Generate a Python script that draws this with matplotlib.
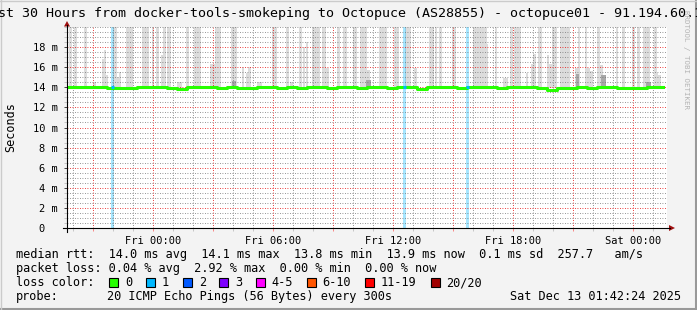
import matplotlib
matplotlib.use("Agg")
import matplotlib.pyplot as plt
from matplotlib.lines import Line2D
from matplotlib.patches import Rectangle, Polygon
from matplotlib.ticker import FixedLocator, FixedFormatter, MultipleLocator

W, H = 697, 310
MONO = "DejaVu Sans Mono"

# x axis = hours since Thu 19:42:24 (30 hours shown)
FRI0 = 4 + 17 / 60 + 36 / 3600
label_hours = [FRI0 + 6 * i for i in range(5)]
label_text = ["Fri 00:00", "Fri 06:00", "Fri 12:00", "Fri 18:00", "Sat 00:00"]

# median rtt (ms), one value every 30 minutes
median_ms = [14.0, 14.0, 14.0, 14.0, 13.9, 13.9, 13.9, 14.0, 14.0, 14.0,
             13.9, 13.85, 14.0, 14.0, 14.0, 13.9, 14.0, 13.9, 13.95, 14.0,
             14.0, 13.9, 14.0, 13.95, 14.0, 14.0, 13.95, 14.0, 14.0, 13.95,
             14.0, 14.0, 13.9, 14.0, 14.0, 13.85, 14.0, 14.0, 14.0, 13.9,
             14.0, 14.0, 14.0, 13.95, 14.0, 14.0, 14.0, 13.95, 13.75, 13.9,
             13.95, 14.0, 13.95, 14.0, 14.0, 13.9, 13.95, 13.95, 14.0, 14.0]

# samples with 1/20 lost
loss_hours = [2.25, 16.85, 20.0]

# smoke going off the top of the graph: (start h, end h)
smoke_full = [(0.12, 0.24), (0.37, 0.49), (0.85, 0.99), (2.29, 2.49), (2.95, 3.29),
              (3.74, 4.12), (4.24, 4.37), (4.45, 4.6), (4.82, 4.95), (5.0, 5.2),
              (5.95, 6.12), (6.37, 6.7), (7.4, 7.69), (8.19, 8.49), (10.24, 10.49),
              (10.95, 11.09), (11.62, 11.74), (12.24, 12.65), (12.74, 12.95),
              (13.49, 13.65), (13.82, 13.99), (14.32, 14.49), (14.65, 14.99),
              (15.62, 15.99), (16.37, 16.62), (16.9, 17.2), (18.12, 18.35),
              (18.4, 18.52), (18.62, 18.74), (19.24, 19.45), (20.32, 20.99),
              (21.4, 21.49), (22.15, 22.32), (22.37, 22.7), (23.57, 23.74),
              (24.24, 24.49), (24.65, 25.15), (25.54, 25.65), (25.9, 26.02),
              (26.52, 26.65), (27.45, 27.57), (27.74, 27.9), (28.24, 28.4),
              (28.49, 28.65), (28.82, 29.15), (29.35, 29.49)]

# smoke that stays inside the graph: (start h, end h, max ms)
smoke_part = [(1.3, 1.45, 14.5), (1.74, 1.85, 16.8), (1.85, 1.95, 17.7), (1.95, 2.07, 15.2),
              (2.49, 2.6, 15.0), (2.6, 2.7, 15.5), (4.7, 4.82, 17.2), (5.48, 5.74, 14.5),
              (7.15, 7.4, 16.3), (8.74, 8.85, 16.0), (8.95, 9.04, 15.4), (9.07, 9.2, 16.0),
              (9.48, 9.74, 14.5), (11.15, 11.3, 14.5), (11.82, 11.9, 18.0), (11.95, 12.04, 18.5),
              (12.95, 13.1, 15.9), (14.99, 15.15, 15.7), (17.35, 17.49, 15.9), (20.99, 21.07, 18.3),
              (21.8, 22.05, 14.9), (22.95, 23.07, 15.4), (23.2, 23.32, 16.3), (23.32, 23.45, 17.3),
              (23.99, 24.12, 17.2), (24.12, 24.24, 16.3), (25.4, 25.54, 15.9), (26.02, 26.15, 15.9),
              (26.15, 26.29, 15.6), (26.65, 26.79, 16.2), (29.49, 29.57, 15.4), (29.57, 29.69, 15.2)]

# denser smoke close to the median: (start h, end h, max ms)
smoke_dark = [(8.25, 8.45, 14.6), (14.95, 15.2, 14.7), (25.45, 25.6, 15.3),
              (26.7, 26.95, 15.2), (28.95, 29.2, 14.5)]

loss_labels = ["0", "1", "2", "3", "4-5", "6-10", "11-19", "20/20"]
loss_colors = ["#26ff00", "#00b8ff", "#0059ff", "#7e00ff", "#ff00ff", "#ff5500", "#ff0000", "#a10000"]

stats_rtt = "median rtt:  14.0 ms avg  14.1 ms max  13.8 ms min  13.9 ms now  0.1 ms sd  257.7   am/s"
stats_loss = "packet loss: 0.04 % avg  2.92 % max  0.00 % min  0.00 % now"
probe_text = "20 ICMP Echo Pings (56 Bytes) every 300s"
stamp = "Sat Dec 13 01:42:24 2025"
title = "Last 30 Hours from docker-tools-smokeping to Octopuce (AS28855) - octopuce01 - 91.194.60.1"


def fx(px):
    return px / W


def fy(py):
    return 1 - py / H


fig = plt.figure(figsize=(W / 100, H / 100), dpi=100, facecolor="#f3f3f3")
ax = fig.add_axes([fx(67), fy(228), fx(667) - fx(67), fy(27) - fy(228)])
ax.set_facecolor("white")
ax.set_xlim(0, 30)
ax.set_ylim(0, 20)
for s in ax.spines.values():
    s.set_visible(False)

# smoke
ax.bar([a for a, b in smoke_full], [25 - 13.9] * len(smoke_full), bottom=13.9,
       width=[b - a for a, b in smoke_full], align="edge", color="#dcdcdc", lw=0, zorder=1)
ax.bar([a for a, b, t in smoke_part], [t - 13.9 for a, b, t in smoke_part], bottom=13.9,
       width=[b - a for a, b, t in smoke_part], align="edge", color="#dcdcdc", lw=0, zorder=1)
ax.bar([a for a, b, t in smoke_dark], [t - 13.9 for a, b, t in smoke_dark], bottom=13.9,
       width=[b - a for a, b, t in smoke_dark], align="edge", color="#a8a8a8", lw=0, zorder=1.2)

# loss bars
ax.bar(loss_hours, [20] * len(loss_hours), width=0.15, color="#00b8ff", alpha=0.35, lw=0, zorder=1.5)

# median
xs = [0.5 * i for i in range(len(median_ms))]
ax.step(xs + [29.8], median_ms + [median_ms[-1]], where="post", color="#26ff00", lw=2.2, zorder=3)
for t in loss_hours:
    ax.plot([t - 0.075, t + 0.075], [14.0, 14.0], color="#00b8ff", lw=2.2,
            solid_capstyle="butt", zorder=3.1)

# grid
ax.xaxis.set_major_locator(FixedLocator([FRI0 - 3 + 3 * i for i in range(10)]))
ax.xaxis.set_minor_locator(FixedLocator([FRI0 - 4 + i for i in range(30)]))
maj_labels = []
for i in range(10):
    maj_labels.append(label_text[(i - 1) // 2] if i % 2 == 1 else "")
ax.xaxis.set_major_formatter(FixedFormatter(maj_labels))
ax.yaxis.set_major_locator(MultipleLocator(2))
ax.yaxis.set_minor_locator(MultipleLocator(0.5))
ax.set_yticks(range(0, 20, 2))
ax.set_yticklabels(["0  "] + [f"{v} m" for v in range(2, 20, 2)])

ax.grid(which="major", color=(0.9, 0, 0, 0.28), lw=0.6, ls=(0, (1, 2)))
ax.grid(which="minor", color=(0.45, 0.45, 0.45, 0.18), lw=0.6, ls=(0, (1, 2)))
ax.set_axisbelow(False)
ax.tick_params(which="major", length=2.5, width=0.7, color=(1, 0, 0, 0.45),
               labelsize=7.5, labelcolor="#000000", pad=3)
ax.tick_params(which="minor", length=2, width=0.7, color=(0.5, 0.5, 0.5, 0.4))
ax.tick_params(axis="y", which="major", color="#404040", pad=4)
for lab in ax.get_xticklabels() + ax.get_yticklabels():
    lab.set_family(MONO)

# axis lines and arrows
fig.add_artist(Line2D([fx(63), fx(670)], [fy(228), fy(228)], color="black", lw=0.8))
fig.add_artist(Line2D([fx(67), fx(67)], [fy(232), fy(25)], color="black", lw=0.8))
fig.add_artist(Polygon([[fx(64), fy(26.5)], [fx(70), fy(26.5)], [fx(67), fy(21)]],
                       closed=True, color="#a01010", lw=0))
fig.add_artist(Polygon([[fx(669), fy(225)], [fx(669), fy(231)], [fx(675), fy(228)]],
                       closed=True, color="#a01010", lw=0))

# texts
fig.text(fx(-18), fy(17), title, family=MONO, fontsize=9.6, ha="left", va="baseline")
fig.text(fx(10.5), fy(127.5), "Seconds", family=MONO, fontsize=8.5, rotation=90,
         ha="center", va="center")
fig.text(fx(686), fy(60), "RRDTOOL / TOBI OETIKER", family=MONO, fontsize=5.4,
         rotation=-90, ha="center", va="center", color="#b4b4b4")
fig.text(fx(16), fy(258), stats_rtt, family=MONO, fontsize=8.55, va="baseline")
fig.text(fx(16), fy(272), stats_loss, family=MONO, fontsize=8.55, va="baseline")
fig.text(fx(16), fy(286), "loss color:", family=MONO, fontsize=8.55, va="baseline")
box_x = [109, 146, 183, 219, 256, 307, 365, 431]
text_x = [125, 162, 199, 235, 271, 322, 381, 446]
for bx, tx, lab, col in zip(box_x, text_x, loss_labels, loss_colors):
    fig.add_artist(Rectangle((fx(bx), fy(287)), 9 / W, 9 / H, facecolor=col,
                             edgecolor="black", lw=0.8))
    fig.text(fx(tx), fy(286), lab, family=MONO, fontsize=8.55, va="baseline")
fig.text(fx(16), fy(300), "probe:", family=MONO, fontsize=8.55, va="baseline")
fig.text(fx(107), fy(300), probe_text, family=MONO, fontsize=8.55, va="baseline")
fig.text(fx(681), fy(300), stamp, family=MONO, fontsize=8.55, va="baseline", ha="right")

# frame
fig.add_artist(Line2D([0, 1], [fy(309), fy(309)], color="#999999", lw=1.5))
fig.add_artist(Line2D([fx(696), fx(696)], [0, 1], color="#999999", lw=1.5))
fig.add_artist(Line2D([0, 1], [fy(0.5), fy(0.5)], color="#cbcbcb", lw=1))
fig.add_artist(Line2D([fx(0.5), fx(0.5)], [0, 1], color="#cbcbcb", lw=1))

fig.savefig("out.png", dpi=100, facecolor=fig.get_facecolor())
